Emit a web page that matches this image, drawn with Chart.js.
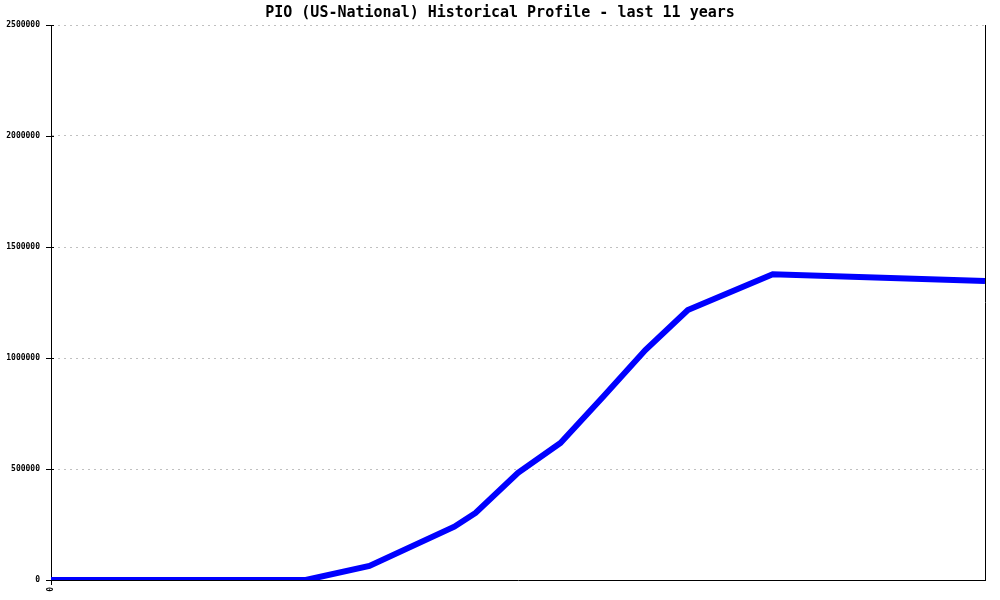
<!DOCTYPE html>
<html>
<head>
<meta charset="utf-8">
<script src="https://cdn.jsdelivr.net/npm/chart.js@4"></script>
<style>
  html, body { margin: 0; padding: 0; background: #fff; }
  #wrap { width: 1000px; height: 600px; position: relative; }
</style>
</head>
<body>
<div id="wrap"><canvas id="chart"></canvas></div>
<script>
// quarters since start of the 11 year window, and PIO totals
const quarters = [0, 12, 15, 19, 20, 22, 24, 26, 28, 30, 34, 44];
const pioValues = [0, 0, 63000, 240000, 302000, 483000, 617000, 824000, 1036000, 1216000, 1377000, 1347000];
const yTicks = [0, 500000, 1000000, 1500000, 2000000, 2500000];
const xTickLabels = ['0'];
const chartTitle = 'PIO (US-National) Historical Profile - last 11 years';

const points = quarters.map((q, i) => ({ x: q, y: pioValues[i] }));

// title + right frame line + ticks crossing the y axis
const framePlugin = {
  id: 'frame',
  afterDraw(chart) {
    const { ctx, chartArea } = chart;
    ctx.save();
    ctx.strokeStyle = '#000';
    ctx.lineWidth = 1;
    ctx.beginPath();
    ctx.moveTo(chartArea.right + 0.5, chartArea.top);
    ctx.lineTo(chartArea.right + 0.5, chartArea.bottom);
    ctx.stroke();
    const y = chart.scales.y;
    yTicks.forEach(v => {
      const py = Math.round(y.getPixelForValue(v)) + 0.5;
      ctx.beginPath();
      ctx.moveTo(chartArea.left - 5, py);
      ctx.lineTo(chartArea.left + 3, py);
      ctx.stroke();
    });
    ctx.fillStyle = '#000';
    ctx.font = 'bold 15px "DejaVu Sans Mono"';
    ctx.textAlign = 'center';
    ctx.textBaseline = 'middle';
    ctx.fillText(chartTitle, 500, 13);
    ctx.restore();
  }
};

new Chart(document.getElementById('chart'), {
  type: 'line',
  data: {
    datasets: [{
      data: points,
      borderColor: '#0000ff',
      borderWidth: 6,
      pointRadius: 0,
      tension: 0,
      fill: false
    }]
  },
  options: {
    responsive: true,
    maintainAspectRatio: false,
    animation: false,
    layout: { padding: { top: 25, right: 15, left: 0, bottom: 0 } },
    plugins: { legend: { display: false }, tooltip: { enabled: false } },
    scales: {
      x: {
        type: 'linear',
        min: 0,
        max: 44,
        afterBuildTicks: s => { s.ticks = xTickLabels.map((t, i) => ({ value: i })); },
        afterFit: s => { s.height = 20; },
        ticks: {
          minRotation: 90, maxRotation: 90,
          color: '#000',
          font: { family: 'DejaVu Sans Mono', size: 8, weight: 'bold' },
          padding: 2,
          callback: (v, i) => xTickLabels[i]
        },
        grid: { drawOnChartArea: false, tickLength: 5, color: '#000' },
        border: { color: '#000', width: 1 }
      },
      y: {
        min: 0,
        max: 2500000,
        afterBuildTicks: s => { s.ticks = yTicks.map(v => ({ value: v })); },
        afterFit: s => { s.width = 51; },
        ticks: {
          color: '#000',
          font: { family: 'DejaVu Sans Mono', size: 8, weight: 'bold' },
          padding: 11,
          callback: v => String(v)
        },
        grid: {
          color: ctx => ctx.tick && ctx.tick.value === 0 ? 'rgba(0,0,0,0)' : '#c0c0c0',
          drawTicks: false,
          lineWidth: 1
        },
        border: { color: '#000', width: 1, dash: [2, 4] }
      }
    }
  },
  plugins: [framePlugin]
});
</script>
</body>
</html>
